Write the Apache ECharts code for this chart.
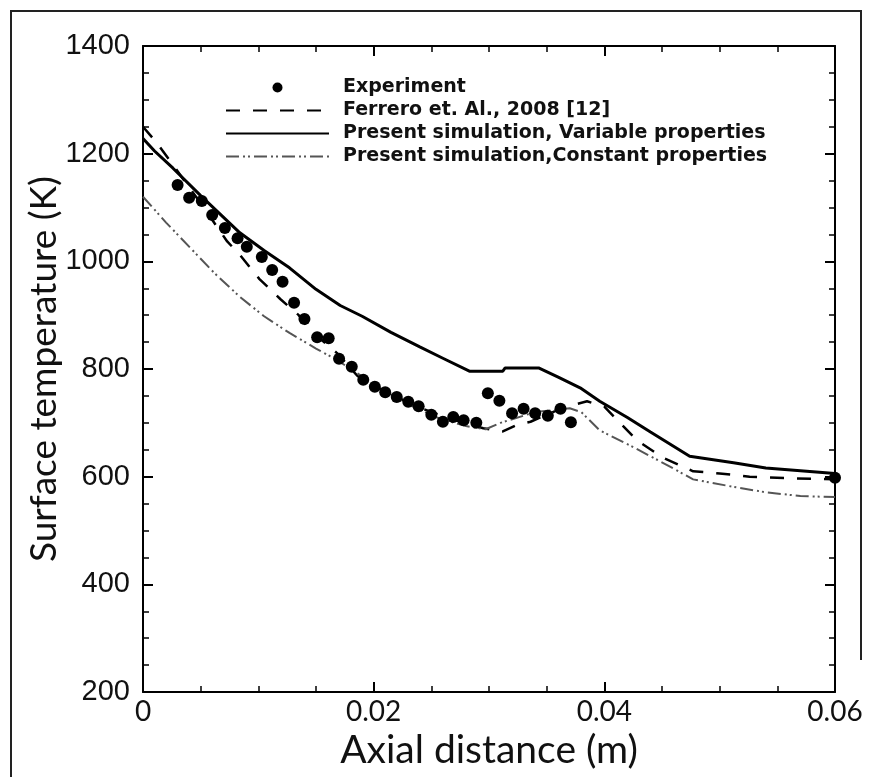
<!DOCTYPE html>
<html>
<head>
<meta charset="utf-8">
<script src="https://cdn.jsdelivr.net/npm/echarts@6/dist/echarts.min.js"></script>
<style>
  html, body { margin: 0; padding: 0; background: #fff; }
  #chart { width: 874px; height: 777px; }
</style>
</head>
<body>
<div id="chart"></div>
<script>
// axial distance (m), surface temperature (K)
var experiment = [
    [0.0030, 1142], [0.0040, 1118], [0.0051, 1112], [0.0060, 1086], [0.0071, 1062],
    [0.0082, 1043], [0.0090, 1027], [0.0103, 1008], [0.0112, 984], [0.0121, 962],
    [0.0131, 923], [0.0140, 893], [0.0151, 859], [0.0161, 857], [0.0170, 819],
    [0.0181, 804], [0.0191, 780], [0.0201, 767], [0.0210, 757], [0.0220, 748],
    [0.0230, 739], [0.0239, 731], [0.0250, 715], [0.0260, 702], [0.0269, 711],
    [0.0278, 705], [0.0289, 700], [0.0299, 755], [0.0309, 741], [0.0320, 718],
    [0.0330, 726], [0.0340, 718], [0.0351, 713], [0.0362, 726], [0.0371, 701],
    [0.0600, 598]
];

var ferrero = [
    [0, 1250], [0.0012, 1220], [0.0025, 1182], [0.005, 1108], [0.0073, 1037],
    [0.0084, 1012], [0.0101, 967], [0.0119, 930], [0.0135, 900], [0.0145, 872],
    [0.0168, 830], [0.0186, 787], [0.021, 758], [0.024, 728], [0.027, 705],
    [0.0295, 690], [0.0312, 684], [0.0324, 696], [0.0336, 702], [0.0364, 728],
    [0.0385, 740], [0.04, 730], [0.0428, 668], [0.0451, 635], [0.0477, 610],
    [0.05, 606], [0.0526, 600], [0.056, 597], [0.06, 595]
];

var variableProps = [
    [0, 1228], [0.001, 1205], [0.0026, 1173], [0.005, 1122], [0.0084, 1053],
    [0.0105, 1020], [0.0127, 988], [0.015, 948], [0.0171, 918], [0.019, 898],
    [0.0215, 868], [0.024, 841], [0.026, 820], [0.0283, 796], [0.0312, 796],
    [0.0314, 802], [0.0343, 802], [0.036, 785], [0.0379, 765], [0.0396, 740],
    [0.042, 710], [0.044, 683], [0.0474, 638], [0.0512, 626], [0.054, 616],
    [0.057, 611], [0.06, 606]
];

var constantProps = [
    [0, 1120], [0.002, 1072], [0.0041, 1025], [0.0062, 978], [0.0084, 934],
    [0.0105, 898], [0.0127, 867], [0.015, 838], [0.0168, 817], [0.02, 772],
    [0.0229, 735], [0.0257, 708], [0.028, 694], [0.0297, 688], [0.031, 700],
    [0.034, 720], [0.037, 727], [0.038, 720], [0.0396, 686], [0.0425, 655],
    [0.0454, 622], [0.0477, 595], [0.0512, 581], [0.054, 571], [0.057, 564],
    [0.06, 562]
];

var seriesNames = [
    "Experiment",
    "Ferrero et. Al., 2008 [12]",
    "Present simulation, Variable properties",
    "Present simulation,Constant properties"
];

var chart = echarts.init(document.getElementById("chart"), null, { renderer: "canvas" });

var xBase = {
    type: "value",
    min: 0,
    max: 0.06,
    interval: 0.02,
    splitLine: { show: false },
    axisLine: { onZero: false, lineStyle: { color: "#000", width: 2 } },
    axisTick: { inside: true, length: 10, lineStyle: { color: "#000", width: 2 } },
    minorTick: { show: true, splitNumber: 4, length: 6, lineStyle: { color: "#000", width: 1.5 } },
};

var yBase = {
    type: "value",
    min: 200,
    max: 1400,
    interval: 200,
    splitLine: { show: false },
    axisLine: { onZero: false, lineStyle: { color: "#000", width: 2 } },
    axisTick: { inside: true, length: 10, lineStyle: { color: "#000", width: 2 } },
    minorTick: { show: true, splitNumber: 4, length: 6, lineStyle: { color: "#000", width: 1.5 } },
};

// hide the marker that line series put in their legend icon
var noMarker = { color: "rgba(0,0,0,0)", borderWidth: 0, opacity: 0 };

var option = {
    backgroundColor: "#fff",
    animation: false,
    grid: { left: 143, top: 46, right: 39, bottom: 85 },
    legend: {
        orient: "vertical",
        left: 220,
        top: 73,
        itemWidth: 103,
        itemHeight: 10,
        itemGap: 4,
        selectedMode: false,
        textStyle: {
            fontFamily: "DejaVu Sans",
            fontWeight: "bold",
            fontSize: 19,
            lineHeight: 19,
            color: "#111",
            padding: [0, 0, 0, 9],
        },
        data: [
            { name: seriesNames[0] },
            { name: seriesNames[1], itemStyle: noMarker },
            { name: seriesNames[2], itemStyle: noMarker },
            { name: seriesNames[3], itemStyle: noMarker },
        ],
    },
    xAxis: [
        Object.assign({}, xBase, {
            position: "bottom",
            name: "Axial distance (m)",
            nameLocation: "middle",
            nameGap: 30,
            nameTextStyle: { fontFamily: "Lato", fontSize: 39, color: "#111" },
            axisLabel: {
                margin: 6,
                fontFamily: "Lato",
                fontSize: 28,
                color: "#111",
                formatter: function (v) { return v === 0 ? "0" : v.toFixed(2); },
            },
        }),
        Object.assign({}, xBase, { position: "top", axisLabel: { show: false } }),
    ],
    yAxis: [
        Object.assign({}, yBase, {
            position: "left",
            name: "Surface temperature (K)",
            nameLocation: "middle",
            nameMoveOverlap: false,
            nameGap: 80,
            nameTextStyle: { fontFamily: "Lato", fontSize: 37, color: "#111" },
            axisLabel: {
                margin: 13,
                fontFamily: "Liberation Sans",
                fontSize: 29,
                color: "#111",
                formatter: function (v) { return String(v); },
            },
        }),
        Object.assign({}, yBase, { position: "right", axisLabel: { show: false } }),
    ],
    series: [
        {
            name: seriesNames[1],
            type: "line",
            data: ferrero,
            showSymbol: false,
            symbol: "none",
            lineStyle: { color: "#000", width: 2.5, type: [14, 13] },
            itemStyle: { color: "#000" },
            z: 3,
        },
        {
            name: seriesNames[2],
            type: "line",
            data: variableProps,
            showSymbol: false,
            symbol: "none",
            lineStyle: { color: "#000", width: 3 },
            itemStyle: { color: "#000" },
            z: 3,
        },
        {
            name: seriesNames[3],
            type: "line",
            data: constantProps,
            showSymbol: false,
            symbol: "none",
            lineStyle: { color: "#555", width: 2, type: [13, 4, 2, 3, 2, 4] },
            itemStyle: { color: "#555" },
            z: 3,
        },
        {
            name: seriesNames[0],
            type: "scatter",
            data: experiment,
            symbol: "circle",
            symbolSize: 12,
            itemStyle: { color: "#000", opacity: 1 },
            z: 5,
        },
    ],
    graphic: [
        // outer frame of the figure
        { type: "line", shape: { x1: 10, y1: 11, x2: 862, y2: 11 }, style: { stroke: "#222", lineWidth: 2 } },
        { type: "line", shape: { x1: 11, y1: 10, x2: 11, y2: 777 }, style: { stroke: "#222", lineWidth: 2 } },
        { type: "line", shape: { x1: 861, y1: 10, x2: 861, y2: 660 }, style: { stroke: "#222", lineWidth: 2 } },
    ],
};

chart.setOption(option);
</script>
</body>
</html>
